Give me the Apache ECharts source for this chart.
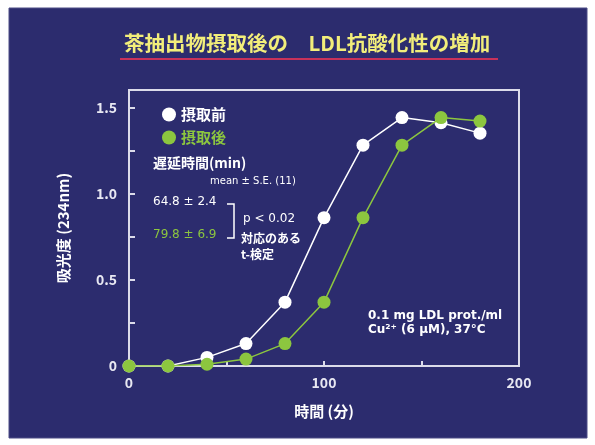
<!DOCTYPE html>
<html><head><meta charset="utf-8">
<script src="https://cdn.jsdelivr.net/npm/echarts@6/dist/echarts.min.js"></script>
<style>html,body{margin:0;padding:0;background:#fff;}#c{width:595px;height:445px;}</style>
</head><body><div id="c"></div>
<script>
var timeMin = [0, 20, 40, 60, 80, 100, 120, 140, 160, 180];
var beforeIntake = [0, 0, 0.05, 0.13, 0.37, 0.86, 1.28, 1.44, 1.41, 1.35];
var afterIntake = [0, 0, 0.01, 0.04, 0.13, 0.37, 0.86, 1.28, 1.44, 1.42];
var seriesNames = ['摂取前', '摂取後'];
var xTickLabels = [0, 100, 200];
var yTickLabels = [0, 0.5, 1.0, 1.5];

var FONT = '"Noto Sans CJK JP", "DejaVu Sans", sans-serif';
var LAT = '"DejaVu Sans", "Noto Sans CJK JP", sans-serif';
var NAVY = '#2c2c6e';
var AX = '#dcdcea';
var GREEN = '#8cc63f';

function pairs(xs, ys) { return xs.map(function (x, i) { return [x, ys[i]]; }); }

var chart = echarts.init(document.getElementById('c'));
chart.setOption({
  backgroundColor: '#ffffff',
  animation: false,
  textStyle: { fontFamily: FONT },
  graphic: [
    { type: 'rect', z: -10, shape: { x: 9, y: 8, width: 578, height: 430 },
      style: { fill: NAVY, stroke: '#4c4c86', lineWidth: 1 } },
    { type: 'text', left: 124, top: 33, z: 5,
      style: { text: '茶抽出物摂取後の　LDL抗酸化性の増加', fill: '#f2ee7a', font: 'bold 20.5px ' + FONT } },
    { type: 'line', z: 5, shape: { x1: 120, y1: 59, x2: 498, y2: 59 },
      style: { stroke: '#c8325a', lineWidth: 2 } },
    { type: 'text', left: 153, top: 156, z: 5,
      style: { text: '遅延時間(min)', fill: '#ffffff', font: 'bold 14px ' + FONT } },
    { type: 'text', left: 210, top: 176, z: 5,
      style: { text: 'mean ± S.E. (11)', fill: '#ffffff', font: '10px ' + LAT } },
    { type: 'text', left: 153, top: 196, z: 5,
      style: { text: '64.8 ± 2.4', fill: '#ffffff', font: '12px ' + LAT } },
    { type: 'text', left: 153, top: 229, z: 5,
      style: { text: '79.8 ± 6.9', fill: GREEN, font: '12px ' + LAT } },
    { type: 'polyline', z: 5, shape: { points: [[227, 204], [234, 204], [234, 238], [227, 238]] },
      style: { stroke: '#ffffff', lineWidth: 1.5, fill: null } },
    { type: 'text', left: 243, top: 213, z: 5,
      style: { text: 'p < 0.02', fill: '#ffffff', font: '12px ' + LAT } },
    { type: 'text', left: 241, top: 232, z: 5,
      style: { text: '対応のある', fill: '#ffffff', font: 'bold 12px ' + FONT } },
    { type: 'text', left: 241, top: 248, z: 5,
      style: { text: 't-検定', fill: '#ffffff', font: 'bold 12px ' + FONT } },
    { type: 'text', left: 368, top: 310, z: 5,
      style: { text: '0.1 mg LDL prot./ml', fill: '#ffffff', font: 'bold 12px ' + LAT } },
    { type: 'text', left: 368, top: 324, z: 5,
      style: { text: 'Cu²⁺ (6 μM), 37°C', fill: '#ffffff', font: 'bold 12px ' + LAT } }
  ],
  legend: {
    orient: 'vertical', left: 157, top: 102, itemGap: 8,
    itemWidth: 14, itemHeight: 14, icon: 'circle',
    textStyle: { fontFamily: FONT, fontWeight: 'bold', fontSize: 15 },
    data: [
      { name: seriesNames[0], textStyle: { color: '#ffffff' } },
      { name: seriesNames[1], textStyle: { color: GREEN } }
    ]
  },
  grid: { left: 129, right: 76, top: 90, bottom: 79, show: true,
    borderColor: AX, borderWidth: 2, backgroundColor: 'transparent' },
  xAxis: {
    type: 'value', min: 0, max: 200, interval: 100,
    name: '時間 (分)', nameLocation: 'middle', nameGap: 38,
    nameTextStyle: { color: '#ffffff', fontWeight: 'bold', fontSize: 15, fontFamily: FONT },
    axisLine: { show: true, lineStyle: { color: AX, width: 2 } },
    axisTick: { show: true, inside: true, length: 5, lineStyle: { color: AX, width: 2 },
      customValues: [50, 100, 150] },
    axisLabel: { color: '#e8e8f2', fontWeight: 'bold', fontSize: 14, margin: 10,
      customValues: xTickLabels },
    splitLine: { show: false }
  },
  yAxis: {
    type: 'value', min: 0, max: 1.6, interval: 0.5,
    name: '吸光度 (234nm)', nameLocation: 'middle', nameGap: 58, nameRotate: 90,
    nameTextStyle: { color: '#ffffff', fontWeight: 'bold', fontSize: 15, fontFamily: FONT },
    axisLine: { show: true, lineStyle: { color: AX, width: 2 } },
    axisTick: { show: true, inside: true, length: 6, lineStyle: { color: AX, width: 2 },
      customValues: [0.25, 0.5, 0.75, 1.0, 1.25, 1.5] },
    axisLabel: { color: '#e8e8f2', fontWeight: 'bold', fontSize: 14, margin: 12,
      customValues: yTickLabels,
      formatter: function (v) { return v === 0 ? '0' : v.toFixed(1); } },
    splitLine: { show: false }
  },
  series: [
    { name: seriesNames[0], type: 'line', data: pairs(timeMin, beforeIntake),
      symbol: 'circle', symbolSize: 13, z: 3,
      lineStyle: { color: '#ffffff', width: 1.5 },
      itemStyle: { color: '#ffffff' } },
    { name: seriesNames[1], type: 'line', data: pairs(timeMin, afterIntake),
      symbol: 'circle', symbolSize: 13, z: 4,
      lineStyle: { color: GREEN, width: 1.5 },
      itemStyle: { color: GREEN } }
  ]
});
</script></body></html>
